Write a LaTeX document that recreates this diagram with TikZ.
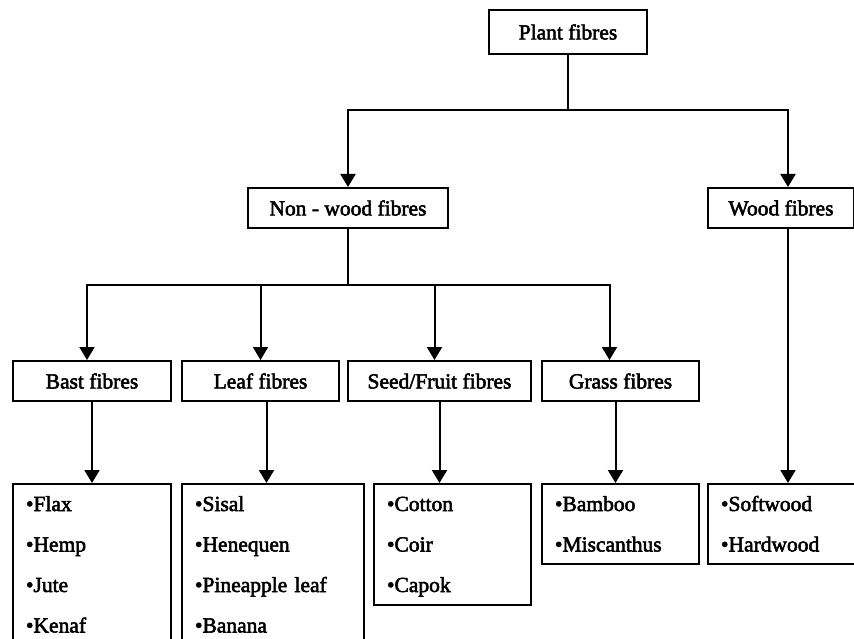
\documentclass[tikz,border=0pt]{standalone}
\usepackage{fontspec}
\setmainfont{Liberation Serif}[BoldFont={Liberation Serif}, BoldFeatures={FakeBold=2.5}]
\usetikzlibrary{arrows.meta, positioning}

\begin{document}
\begin{tikzpicture}[
    x=1pt, y=-1pt,
    node distance=9pt and 9pt,
    box/.style={rectangle, draw, line width=2pt,
                minimum width=158pt, minimum height=40pt, inner sep=0pt,
                text centered, font=\fontsize{21.5}{26}\selectfont\bfseries},
    list/.style={rectangle, draw, line width=2pt, anchor=north,
                 inner xsep=13pt, inner ysep=12pt, align=left,
                 text height=15pt,
                 font=\fontsize{21.5}{40.5}\selectfont\bfseries},
    arr/.style={-{Triangle[length=13pt, width=15pt]}, line width=2pt},
    conn/.style={line width=2pt}
  ]
  \useasboundingbox (0,0) rectangle (854,639);
  \clip (0,0) rectangle (854,639);

  % top levels
  \node[box, minimum height=44pt] (plant) at (568,32) {Plant fibres};
  \node[box, minimum width=200pt] (nonwood) at (348,208) {Non - wood fibres};
  \node[box, minimum width=146pt] (wood) at (781,208) {Wood fibres};

  % non-wood groups
  \node[box] (bast) at (92,381) {Bast fibres};
  \node[box, minimum width=157pt, right=of bast] (leaf) {Leaf fibres};
  \node[box, minimum width=183pt, right=7pt of leaf] (seed) {Seed/Fruit fibres};
  \node[box, minimum width=157pt, right=of seed] (grass) {Grass fibres};

  % fibre lists
  \node[list, text width=132pt, text depth=135pt] (bastlist) at (92,483)
    {•Flax\\ •Hemp\\ •Jute\\ •Kenaf};
  \node[list, text width=156pt, text depth=135pt,
        right=of bastlist.north east, anchor=north west] (leaflist)
    {•Sisal\\ •Henequen\\ •Pineapple leaf\\ •Banana};
  \node[list, text width=131pt, text depth=82pt,
        right=8pt of leaflist.north east, anchor=north west] (seedlist)
    {•Cotton\\ •Coir\\ •Capok};
  \node[list, text width=131pt, text depth=41pt,
        right=of seedlist.north east, anchor=north west] (grasslist)
    {•Bamboo\\ •Miscanthus};
  \node[list, text width=134pt, text depth=41pt] (woodlist) at (788,483)
    {•Softwood\\ •Hardwood};

  \coordinate (split1) at (568,110);
  \coordinate (split2) at (348,285);

  \draw[conn] (plant.south) -- (split1);
  \draw[arr] (split1) -| (nonwood.north);
  \draw[arr] (split1) -| ([xshift=7pt]wood.north);

  \draw[conn] (nonwood.south) -- (split2);
  \draw[arr] (split2) -| ([xshift=-5pt]bast.north);
  \draw[arr] (split2) -| (leaf.north);
  \draw[arr] (split2) -| ([xshift=-5pt]seed.north);
  \draw[arr] (split2) -| ([xshift=-11pt]grass.north);

  \draw[arr] (bast.south) -- (bastlist.north);
  \draw[arr] ([xshift=6pt]leaf.south) -- ([xshift=6pt]leaf.south |- leaflist.north);
  \draw[arr] (seed.south) -- (seed.south |- seedlist.north);
  \draw[arr] ([xshift=-5pt]grass.south) -- ([xshift=-5pt]grasslist.north);
  \draw[arr] ([xshift=7pt]wood.south) -- (woodlist.north);
\end{tikzpicture}
\end{document}
